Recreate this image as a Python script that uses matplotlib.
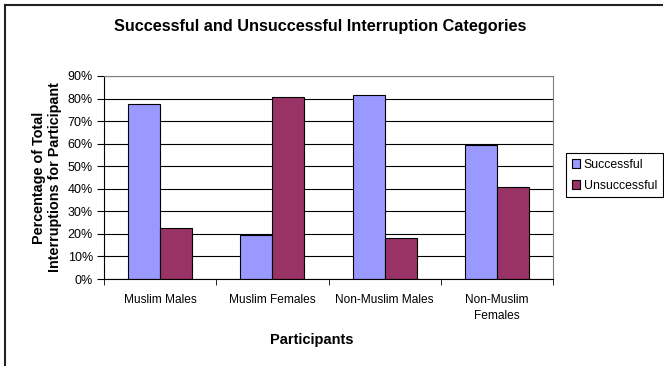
import matplotlib
matplotlib.use("Agg")
import matplotlib.pyplot as plt
from matplotlib.lines import Line2D
from matplotlib.ticker import PercentFormatter, FixedLocator
import numpy as np

# data (percent of interruptions)
participants = ["Muslim Males", "Muslim Females", "Non-Muslim Males", "Non-Muslim\nFemales"]
successful = [77.5, 19.4, 81.7, 59.3]
unsuccessful = [22.5, 80.6, 18.3, 40.7]
series_names = ["Successful", "Unsuccessful"]
colors = ["#9999FF", "#993366"]

plt.rcParams['font.family'] = ['Liberation Sans', 'DejaVu Sans']

W, H = 664, 366
fig = plt.figure(figsize=(W / 100, H / 100), dpi=100)
ax = fig.add_axes([104 / W, 1 - 279 / H, (553 - 104) / W, (279 - 76) / H])

# Excel-like layout: gap width 150% -> bar width 1/3.5 of a category
x = np.arange(len(participants))
bw = 1 / 3.5
ax.bar(x - bw / 2, successful, bw, color=colors[0], edgecolor="black", linewidth=0.8,
       label=series_names[0], zorder=3)
ax.bar(x + bw / 2, unsuccessful, bw, color=colors[1], edgecolor="black", linewidth=0.8,
       label=series_names[1], zorder=3)

ax.set_xlim(-0.5, len(participants) - 0.5)
ax.set_ylim(0, 90)
ax.set_yticks(np.arange(0, 91, 10))
ax.yaxis.set_major_formatter(PercentFormatter(100, decimals=0))
ax.yaxis.grid(True, color="black", linewidth=0.8, zorder=0)
ax.set_axisbelow(True)

# category labels centred, ticks between categories
ax.set_xticks(x)
ax.set_xticklabels(participants, fontsize=8.6, linespacing=1.4)
ax.tick_params(axis="x", which="major", length=0, pad=11)
ax.xaxis.set_minor_locator(FixedLocator(np.arange(-0.5, len(participants), 1)))
ax.tick_params(axis="x", which="minor", length=4, direction="out", color="black")
ax.tick_params(axis="y", length=5, direction="out", labelsize=9, pad=3)

for s in ["top", "right"]:
    ax.spines[s].set_color("#808080")
    ax.spines[s].set_zorder(4)
for s in ["left", "bottom"]:
    ax.spines[s].set_color("black")
    ax.spines[s].set_zorder(4)

ax.set_ylabel("Percentage of Total\nInterruptions for Participant", fontsize=10.4,
              fontweight="bold", labelpad=4)
fig.text(312 / W, 1 - 340 / H, "Participants", ha="center", va="center",
         fontsize=10.5, fontweight="bold")
fig.text(320 / W, 1 - 27 / H, "Successful and Unsuccessful Interruption Categories",
         ha="center", va="center", fontsize=11.7, fontweight="bold")

leg = fig.legend(loc="upper left", bbox_to_anchor=(566 / W, 1 - 153 / H), fontsize=8.8,
                 frameon=True, fancybox=False, edgecolor="black", framealpha=1,
                 handlelength=0.7, handleheight=0.7, handletextpad=0.3,
                 borderpad=0.45, labelspacing=0.75, borderaxespad=0)
leg.get_frame().set_linewidth(0.8)

# outer chart border (only left and top visible in the crop)
fig.add_artist(Line2D([4.5 / W, 4.5 / W], [0, 1 - 4.5 / H], color="#222222", linewidth=1.5))
fig.add_artist(Line2D([4.5 / W, 662 / W], [1 - 4.5 / H, 1 - 4.5 / H], color="#222222", linewidth=1.5))

fig.savefig("out.png", dpi=100)
